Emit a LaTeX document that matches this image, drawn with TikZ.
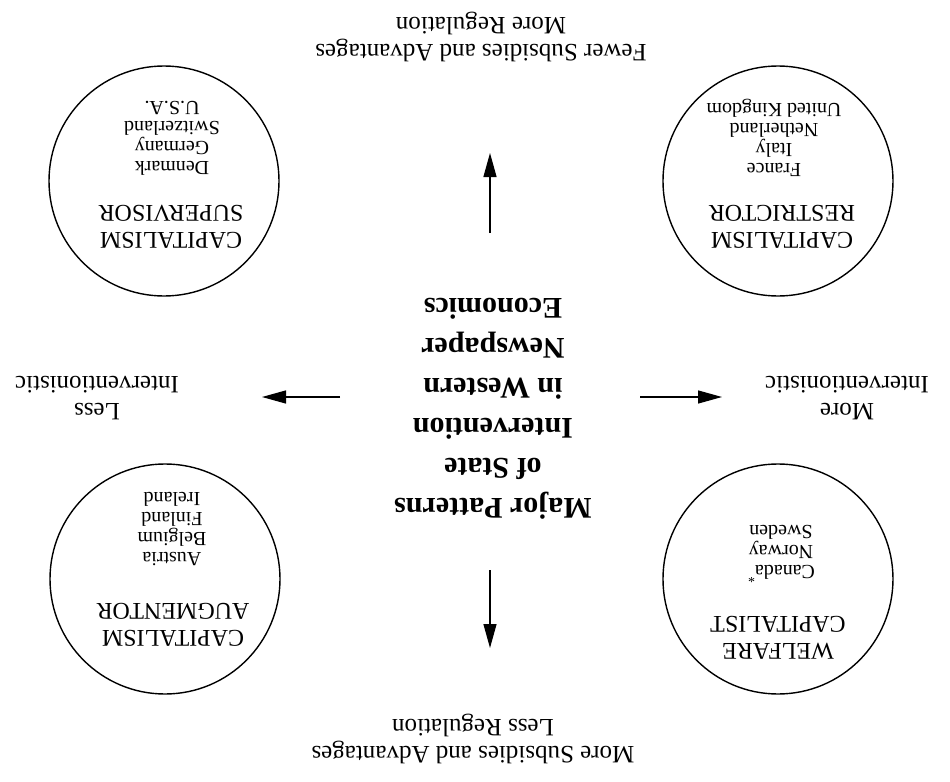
\documentclass[tikz,border=0pt]{standalone}
\usepackage{fontspec}
\setmainfont{Liberation Serif}
\usetikzlibrary{arrows.meta}

\begin{document}
\begin{tikzpicture}[x=0.5pt, y=-0.5pt,
  every node/.style={rotate=180, inner sep=0pt},
  ring/.style={draw, circle, line width=0.7pt, minimum size=115pt},
  ringtitle/.style={align=center, font=\fontsize{12}{13.5}\selectfont},
  ringlist/.style={align=center, font=\fontsize{10}{10}\selectfont},
  axislabel/.style={align=center, font=\fontsize{12.5}{13.5}\selectfont},
  core/.style={align=center, font=\bfseries\fontsize{15}{20}\selectfont},
  pointer/.style={-{Triangle[length=12pt, width=6.5pt]}, line width=0.65pt}]

  % Page (the scan is printed upside down)
  \fill[white] (0,0) rectangle (950,782);
  \useasboundingbox (0,0) rectangle (950,782);

  % Centre title
  \node[core] (core) at (493,409)
    {Major Patterns\\of State\\Intervention\\in Western\\Newspaper\\Economics};

  % Four patterns
  \node[ring] (supervisor) at (164,181) {};
  \node[ringtitle] (supervisorTitle) at (171,227) {CAPITALISM\\SUPERVISOR};
  \node[ringlist] (supervisorList) at (172,138) {Denmark\\Germany\\Switzerland\\U.S.A.};

  \node[ring] (restrictor) at (778,181) {};
  \node[ringtitle] (restrictorTitle) at (782,227) {CAPITALISM\\RESTRICTOR};
  \node[ringlist] (restrictorList) at (774,138) {France\\Italy\\Netherland\\United Kingdom};

  \node[ring] (augmentor) at (165,579) {};
  \node[ringtitle] (augmentorTitle) at (173,625) {CAPITALISM\\AUGMENTOR};
  \node[ringlist] (augmentorList) at (172,529) {Austria\\Belgium\\Finland\\Ireland};

  \node[ring] (welfare) at (778,579) {};
  \node[ringtitle] (welfareTitle) at (778,638) {WELFARE\\CAPITALIST};
  \node[ringlist] (welfareList) at (781,554) {Canada\textsuperscript{*}\\Norway\\Sweden};

  % Axis labels
  \node[axislabel] (fewerSubs) at (481,37) {Fewer Subsidies and Advantages\\More Regulation};
  \node[axislabel] (moreSubs) at (473,739) {More Subsidies and Advantages\\Less Regulation};
  \node[axislabel] (lessInt) at (97,398) {Less\\Interventionistic};
  \node[axislabel] (moreInt) at (847,398) {More\\Interventionistic};

  % Arrows
  \coordinate (upFrom) at (490,233);    \coordinate (upTo) at (490,153);
  \coordinate (downFrom) at (490,570);  \coordinate (downTo) at (490,648);
  \coordinate (leftFrom) at (340,397);  \coordinate (leftTo) at (262,397);
  \coordinate (rightFrom) at (640,397); \coordinate (rightTo) at (722,397);

  \draw[pointer] (upFrom) -- (upTo);
  \draw[pointer] (downFrom) -- (downTo);
  \draw[pointer] (leftFrom) -- (leftTo);
  \draw[pointer] (rightFrom) -- (rightTo);
\end{tikzpicture}
\end{document}
